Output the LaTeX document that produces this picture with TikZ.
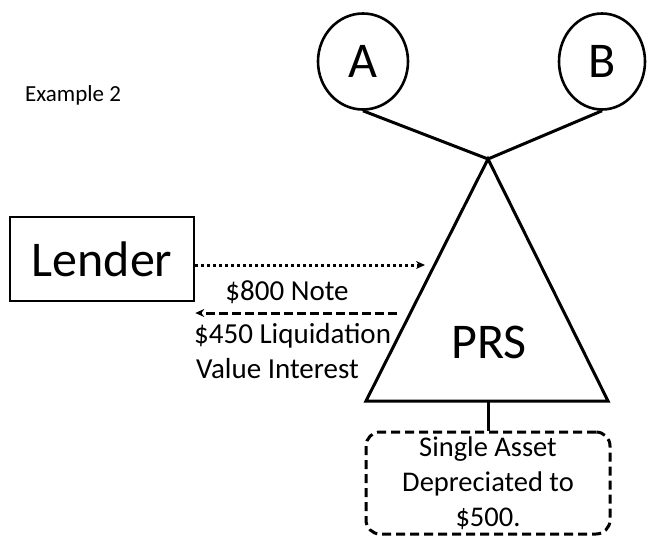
\documentclass[tikz,border=0pt]{standalone}
\usepackage{fontspec}
\setmainfont{Carlito}
\usetikzlibrary{arrows.meta,shapes.geometric}
\begin{document}
\begin{tikzpicture}[x=1pt,y=-1pt,
  ln/.style={line width=3pt},
  circ/.style={draw,ellipse,line width=2.6pt,minimum width=90pt,minimum height=96pt,inner sep=0pt,font=\fontsize{50}{50}\selectfont},
  lbl/.style={font=\fontsize{29}{34}\selectfont,inner sep=0pt},
  tip/.style={-{Stealth[length=9pt,width=8pt]}},
  dbox/.style={draw,rounded corners=14pt,line width=3pt,dash pattern=on 9pt off 5pt}]
\useasboundingbox (0,0) rectangle (648,536);
\node[lbl,anchor=base west,font=\fontsize{23}{26}\selectfont] (ex) at (25,101) {Example 2};
\node[circ] (A) at (363,61.5) {A};
\node[circ,minimum width=86pt] (B) at (602,61.5) {B};
\coordinate (apex) at (488,159);
\draw[ln,line join=miter] (apex) -- (366,401) -- (608,401) -- cycle;
\draw[ln] (A.south) -- (apex) -- (B.south);
\node[font=\fontsize{50}{50}\selectfont] (prs) at (489,342) {PRS};
\node[draw,line width=2.6pt,minimum width=184pt,minimum height=84pt,inner sep=0pt,font=\fontsize{50}{50}\selectfont] (lender) at (102,259) {Lender};
\coordinate (tl) at (425,265);
\draw[line width=3pt,dash pattern=on 3pt off 3pt,tip] (lender.east |- tl) -- (tl);
\coordinate (ds) at (397,313);
\draw[line width=3pt,dash pattern=on 9pt off 4pt,tip] (ds) -- (lender.east |- ds);
\node[lbl] (note) at (287,292) {\$800 Note};
\node[lbl,anchor=west] (liq) at (194,336) {\$450 Liquidation};
\node[lbl,anchor=west] (val) at (196,369) {Value Interest};
\node[dbox,minimum width=244pt,minimum height=102pt] (asset) at (488,483) {};
\node[lbl,align=center,font=\fontsize{28.5}{35}\selectfont] (at) at (488,483) {Single Asset\\Depreciated to\\\$500.};
\draw[ln] (488,401) -- (asset.north);
\end{tikzpicture}
\end{document}
